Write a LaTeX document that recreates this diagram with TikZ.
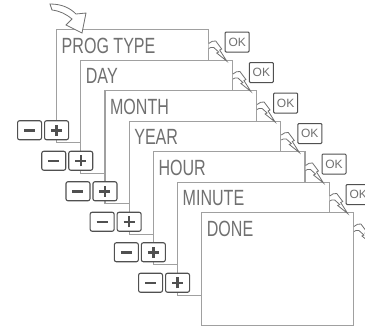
\documentclass[tikz,border=0pt]{standalone}
\usepackage{fontspec}
\setmainfont{Liberation Sans}
\usepackage{graphicx}
\definecolor{scr}{HTML}{A0A0A0}
\definecolor{lcd}{HTML}{707070}
\definecolor{btn}{HTML}{505050}
\tikzset{
  screen/.style={draw=scr, line width=1.2pt, fill=white, minimum width=151.5pt, minimum height=113pt, inner sep=0pt, anchor=north west},
  lcdtext/.style={text=lcd, font=\fontsize{22}{22}\selectfont, anchor=base west, inner sep=0pt},
  okbtn/.style={draw=btn, line width=1pt, rounded corners=1pt, fill=white, minimum width=24pt, minimum height=20pt, inner sep=0pt, anchor=north west, text=lcd, font=\fontsize{12}{12}\selectfont},
  pmbtn/.style={draw=btn, line width=1.1pt, rounded corners=2pt, fill=white, minimum width=24pt, minimum height=19pt, inner sep=0pt, anchor=north west},
  glyph/.style={draw=btn, line width=2.5pt},
  swoosh/.style={draw=lcd, line width=0.8pt, fill=white, line join=miter},
}
\begin{document}
\begin{tikzpicture}[x=1pt,y=-1pt]
\useasboundingbox (0,0) rectangle (365,335);
\foreach \i/\t in {0/PROG TYPE,1/DAY,2/MONTH,3/YEAR,4/HOUR,5/MINUTE,6/DONE} {
  \node[screen] (s\i) at ({56+24.2*\i},{29+30.5*\i}) {};
  \node[lcdtext] (t\i) at ([shift={(5.5,24)}]s\i.north west) {\scalebox{0.73}[1]{\t}};
}
\foreach \i in {0,...,6} {
  \begin{scope}[shift={(s\i.north east)}]
    \draw[swoosh] (0,14.5) .. controls (2,12.5) and (5,11.5) .. (7,12) -- (13,20) -- (11,21) -- (18,32) -- (8,24) -- (10,23) -- (5,18.5) .. controls (3,18) and (1,18.5) .. (0,19.5);
  \end{scope}
}
\foreach \i in {0,...,5} {
  \node[okbtn] (ok\i) at ([shift={(16,2.5)}]s\i.north east) {OK};
  \node[pmbtn] (mi\i) at ([shift={(-39,-23)}]s\i.south west) {};
  \node[pmbtn] (pl\i) at ([shift={(-12,-23)}]s\i.south west) {};
  \draw[glyph] ([xshift=-5.5pt]mi\i.center) -- ([xshift=5.5pt]mi\i.center);
  \draw[glyph] ([xshift=-5.5pt]pl\i.center) -- ([xshift=5.5pt]pl\i.center);
  \draw[glyph] ([yshift=-5.5pt]pl\i.center) -- ([yshift=5.5pt]pl\i.center);
}
\draw[swoosh] (50,4) .. controls (62,4) and (70,8) .. (76,14) -- (86,13) -- (82,33) -- (66,25) -- (72,19) .. controls (66,14) and (60,11) .. (52,10) -- cycle;
\end{tikzpicture}
\end{document}
